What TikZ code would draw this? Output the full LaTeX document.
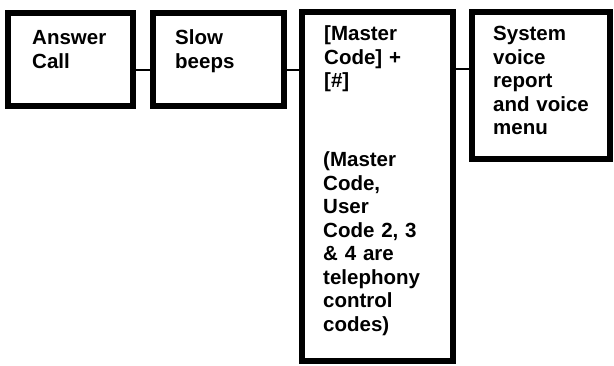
\documentclass[tikz,border=0pt]{standalone}
\usepackage{fontspec}
\setmainfont{Liberation Sans}
\begin{document}
\begin{tikzpicture}[x=1pt,y=-1pt,
  box/.style={draw=black,line width=6pt,fill=white,rectangle,inner sep=0pt},
  txt/.style={anchor=base west,inner sep=0pt,align=left,text width=130pt,
    font=\fontsize{20.5}{23.5}\selectfont\bfseries},
  link/.style={draw=black,line width=2pt}]
\useasboundingbox (0,0) rectangle (614,365);
\node[box,minimum width=125pt,minimum height=93pt] (b1) at (70.5,59.5) {};
\node[box,minimum width=131pt,minimum height=93pt] (b2) at (218.5,59.5) {};
\node[box,minimum width=151pt,minimum height=349pt] (b3) at (377.5,186.5) {};
\node[box,minimum width=138pt,minimum height=147pt] (b4) at (541,85.5) {};
\node[txt] (t1) at (32,44.7) {Answer\\Call};
\node[txt] (t2) at (175,44.7) {Slow\\beeps};
\node[txt] (t3) at (324,40.5) {[Master\\Code] +\\{[\#]}};
\node[txt] (t3b) at (323,166.5) {(Master\\Code,\\User\\Code 2, 3\\\& 4 are\\telephony\\control\\codes)};
\node[txt] (t4) at (493,40.5) {System\\voice\\report\\and voice\\menu};
\coordinate (y1) at (0,70);
\coordinate (y2) at (0,69);
\draw[link] (b1.east |- y1) -- (b2.west |- y1);
\draw[link] (b2.east |- y1) -- (b3.west |- y1);
\draw[link] (b3.east |- y2) -- (b4.west |- y2);
\end{tikzpicture}
\end{document}
